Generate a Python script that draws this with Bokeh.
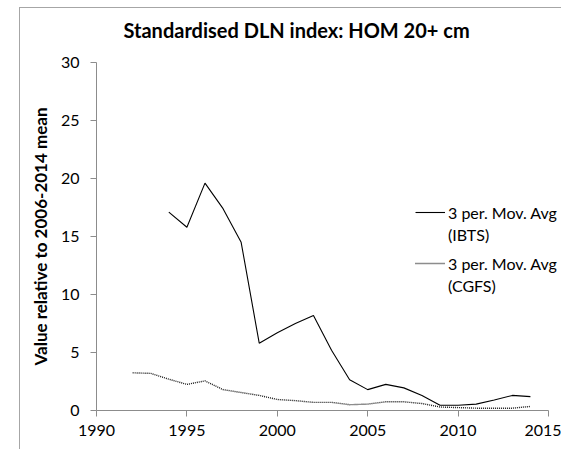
from bokeh.plotting import figure
from bokeh.models import Legend, LegendItem, Range1d, FixedTicker, Title
from bokeh.embed import file_html
from bokeh.resources import INLINE

# ---- data ----
title_text = "Standardised DLN index: HOM 20+ cm"
y_label = "Value relative to 2006-2014 mean"
x_ticks = [1990, 1995, 2000, 2005, 2010, 2015]
y_ticks = [0, 5, 10, 15, 20, 25, 30]

ibts_label = ["3 per. Mov. Avg", "(IBTS)"]
ibts_years = list(range(1994, 2015))
ibts_values = [17.1, 15.8, 19.6, 17.4, 14.5, 5.8, 6.7, 7.5, 8.2, 5.2, 2.65,
               1.8, 2.25, 1.95, 1.3, 0.45, 0.45, 0.55, 0.9, 1.3, 1.2]

cgfs_label = ["3 per. Mov. Avg", "(CGFS)"]
cgfs_years = list(range(1992, 2015))
cgfs_values = [3.25, 3.2, 2.7, 2.25, 2.55, 1.8, 1.55, 1.3, 0.95, 0.85, 0.7,
               0.7, 0.5, 0.55, 0.75, 0.75, 0.6, 0.3, 0.25, 0.2, 0.2, 0.2, 0.35]

FONT = "Lato"
AXIS_GREY = "#8c8c8c"
X_OVERHANG = 0.774   # plot area continues past the last tick (chart is cut at the right)

p = figure(width=542, height=442,
           x_range=Range1d(x_ticks[0], x_ticks[-1] + X_OVERHANG),
           y_range=Range1d(y_ticks[0], y_ticks[-1]),
           output_backend="svg", toolbar_location=None,
           min_border_left=76, min_border_right=0,
           min_border_top=54, min_border_bottom=40)
p.styles = {"margin-left": "19px", "margin-top": "7px",
            "border-left": "1px solid #a6a6a6",
            "border-top": "1px solid #a6a6a6"}

# real title (outer), then a blank spacer title between it and the plot area
p.title.text = title_text
p.title.align = "left"
p.title.offset = 27
p.title.text_font = FONT
p.title.text_font_style = "bold"
p.title.text_font_size = "20px"
p.title.text_color = "black"
p.title.standoff = 0

p.add_layout(Title(text=" ", text_font=FONT, text_font_size="16px",
                   standoff=0), "above")

p.outline_line_color = None
p.xgrid.grid_line_color = None
p.ygrid.grid_line_color = None

for ax in (p.xaxis[0], p.yaxis[0]):
    ax.axis_line_color = AXIS_GREY
    ax.major_tick_line_color = AXIS_GREY
    ax.minor_tick_line_color = None
    ax.major_tick_in = 0
    ax.major_tick_out = 6
    ax.major_label_text_font = FONT
    ax.major_label_text_font_size = "16px"
    ax.major_label_text_color = "black"

p.xaxis.ticker = FixedTicker(ticks=x_ticks)
p.xaxis.bounds = (x_ticks[0], x_ticks[-1])
p.yaxis.ticker = FixedTicker(ticks=y_ticks)
p.xaxis.major_label_standoff = 8
p.yaxis.major_label_standoff = 11

p.yaxis.axis_label = y_label
p.yaxis.axis_label_text_font = FONT
p.yaxis.axis_label_text_font_style = "bold"
p.yaxis.axis_label_text_font_size = "17px"
p.yaxis.axis_label_text_color = "black"
p.yaxis.axis_label_standoff = 7

r_ibts = p.line(ibts_years, ibts_values, line_color="black", line_width=1.1)
r_cgfs = p.line(cgfs_years, cgfs_values, line_color="#1a1a1a", line_width=1.4,
                line_dash="1 1")
r_blank = p.line([], [], line_alpha=0)


def make_legend(items, loc):
    lg = Legend(items=items, location=loc, padding=0, margin=0, spacing=0,
                glyph_width=30, glyph_height=22, label_height=22,
                label_standoff=3, border_line_alpha=0,
                background_fill_alpha=0, label_text_font=FONT,
                label_text_font_size="16px", label_text_color="black")
    p.add_layout(lg, "center")


make_legend([LegendItem(label=ibts_label[0], renderers=[r_ibts]),
             LegendItem(label=ibts_label[1], renderers=[r_blank])], (319, 165))
make_legend([LegendItem(label=cgfs_label[0], renderers=[r_cgfs]),
             LegendItem(label=cgfs_label[1], renderers=[r_blank])], (319, 114))

open("out.html", "w").write(file_html(p, INLINE))
